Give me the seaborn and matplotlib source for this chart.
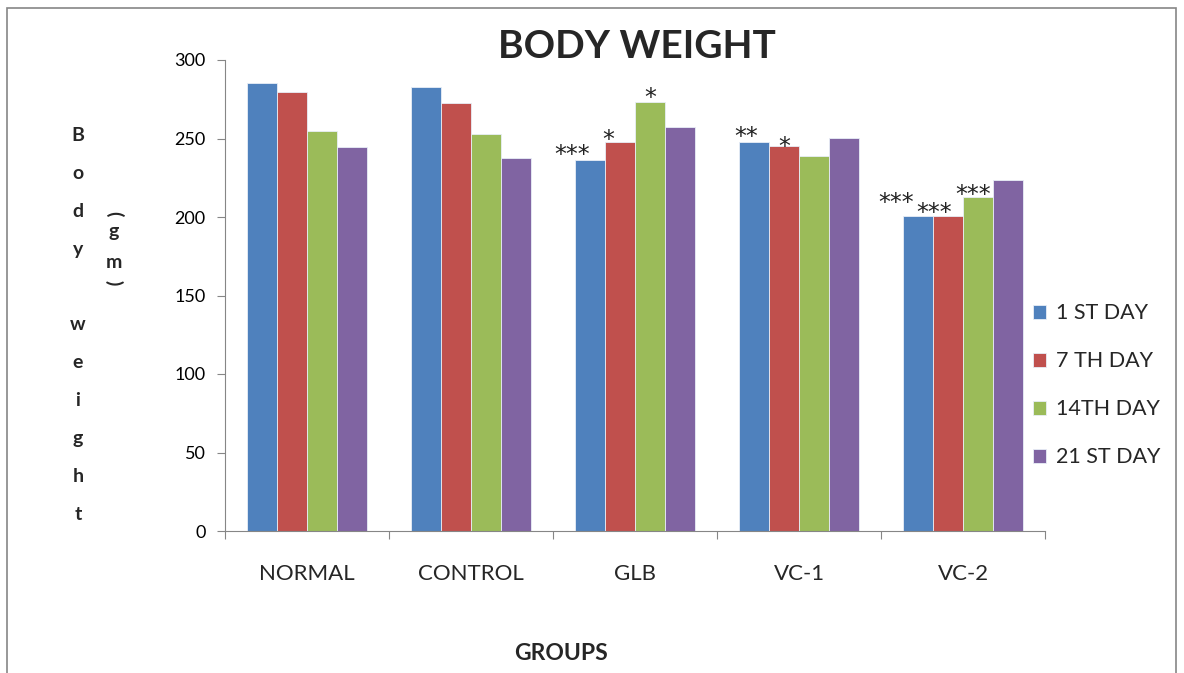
import matplotlib
matplotlib.use("Agg")
import matplotlib.pyplot as plt
from matplotlib.patches import Rectangle
import seaborn as sns
import pandas as pd

groups = ["NORMAL", "CONTROL", "GLB", "VC-1", "VC-2"]
days = ["1 ST DAY", "7 TH DAY", "14TH DAY", "21 ST DAY"]
day1 = [285.5, 283.0, 236.5, 248.0, 200.5]
day7 = [279.5, 272.5, 248.0, 245.5, 200.5]
day14 = [255.0, 253.0, 273.0, 239.0, 213.0]
day21 = [244.5, 237.5, 257.5, 250.5, 223.5]

# significance marks: (group, day, text)
marks = [
    ("GLB", "1 ST DAY", "***"),
    ("GLB", "7 TH DAY", "*"),
    ("GLB", "14TH DAY", "*"),
    ("VC-1", "1 ST DAY", "**"),
    ("VC-1", "7 TH DAY", "*"),
    ("VC-2", "1 ST DAY", "***"),
    ("VC-2", "7 TH DAY", "***"),
    ("VC-2", "14TH DAY", "***"),
]
# label placement relative to the bar top centre, in pixels
mark_offsets = [(-18, 5), (-12, 2), (0, 4), (-8, 5), (0, -1), (-22, 13), (-14, 3), (-5, 2)]

palette = ["#4F81BD", "#C0504D", "#9BBB59", "#8064A2"]

sns.set_style("white")
plt.rcParams["font.family"] = ["Lato", "DejaVu Sans"]

rows = []
for day, vals in zip(days, [day1, day7, day14, day21]):
    for g, v in zip(groups, vals):
        rows.append({"group": g, "day": day, "weight": v})
df = pd.DataFrame(rows)

fig = plt.figure(figsize=(11.84, 6.73), dpi=100)
ax = fig.add_axes([225 / 1184, 1 - 531 / 673, 820 / 1184, 471 / 673])

sns.barplot(data=df, x="group", y="weight", hue="day", order=groups,
            hue_order=days, palette=palette, saturation=1, width=0.73, gap=0,
            edgecolor="#E8EEF7", linewidth=0.6, ax=ax, legend=True)

ax.set_ylim(0, 300)
ax.set_xlim(-0.5, len(groups) - 0.5)
ax.set_yticks(range(0, 301, 50))
ax.tick_params(axis="y", labelsize=13, length=6, width=0.8, color="#868686",
               labelcolor="black", direction="out", left=True, pad=8)
ax.set_xticks(range(len(groups)))
ax.set_xticklabels(groups)
ax.tick_params(axis="x", which="major", length=0, labelsize=16, pad=24)
ax.set_xticks([i - 0.5 for i in range(len(groups) + 1)], minor=True)
ax.tick_params(axis="x", which="minor", length=6, width=0.8, color="#868686",
               bottom=True, direction="out")
ax.set_xlabel("")
ax.set_ylabel("")
for side in ["top", "right"]:
    ax.spines[side].set_visible(False)
for side in ["left", "bottom"]:
    ax.spines[side].set_color("#868686")
    ax.spines[side].set_linewidth(0.8)

# significance labels above the bars
for (g, d, txt), (dx, dy) in zip(marks, mark_offsets):
    bar = ax.containers[days.index(d)][groups.index(g)]
    cx = bar.get_x() + bar.get_width() / 2
    top = bar.get_height()
    ax.annotate(txt, (cx, top), xytext=(dx, dy), textcoords="offset pixels",
                ha="center", va="center", fontsize=17, color="#222222",
                family="DejaVu Sans")

leg = ax.legend(loc="center left", bbox_to_anchor=(0.9854, 0.309),
                frameon=False, fontsize=15.5, handlelength=0.6,
                handleheight=0.6, labelspacing=1.3, handletextpad=0.45,
                borderaxespad=0, borderpad=0)

fig.text(637 / 1184, 1 - 47 / 673, "BODY WEIGHT", ha="center", va="center",
         fontsize=28, fontweight="bold")
fig.text(561 / 1184, 1 - 653 / 673, "GROUPS", ha="center", va="center",
         fontsize=16.5, fontweight="bold")

# stacked vertical axis title
fig.text(78 / 1184, 1 - 325 / 673, "B\no\nd\ny\n\nw\ne\ni\ng\nh\nt",
         ha="center", va="center", fontsize=14, fontweight="bold",
         linespacing=2.49)
fig.text(114 / 1184, 1 - 214 / 673, "(", rotation=270, ha="center",
         va="center", fontsize=14, fontweight="bold")
fig.text(114 / 1184, 1 - 247 / 673, "g\nm", ha="center", va="center",
         fontsize=14, fontweight="bold", linespacing=2.0)
fig.text(114 / 1184, 1 - 283 / 673, ")", rotation=270, ha="center",
         va="center", fontsize=14, fontweight="bold")

# outer chart frame
fig.patches.append(Rectangle((7 / 1184, -0.05), 1169 / 1184, 1.05 - 8 / 673,
                             transform=fig.transFigure, fill=False,
                             edgecolor="#868686", linewidth=1.2))

fig.savefig("out.png", dpi=100)
